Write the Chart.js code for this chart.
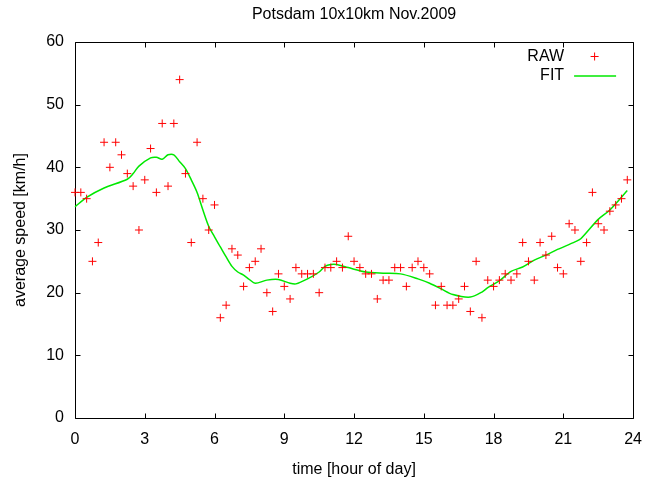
<!DOCTYPE html>
<html>
<head>
<meta charset="utf-8">
<script src="https://cdn.jsdelivr.net/npm/chart.js@4.4.0/dist/chart.umd.min.js"></script>
<style>
  body { margin: 0; background: #fff; }
  #wrap { width: 646px; height: 481px; }
</style>
</head>
<body>
<div id="wrap"><canvas id="chart" width="646" height="481"></canvas></div>
<script>
// raw measurements, one every quarter hour
const rawHours = [
  0, 0.25, 0.5, 0.75, 1, 1.25, 1.5, 1.75, 2, 2.25, 2.5, 2.75,
  3, 3.25, 3.5, 3.75, 4, 4.25, 4.5, 4.75, 5, 5.25, 5.5, 5.75,
  6, 6.25, 6.5, 6.75, 7, 7.25, 7.5, 7.75, 8, 8.25, 8.5, 8.75,
  9, 9.25, 9.5, 9.75, 10, 10.25, 10.5, 10.75, 11, 11.25, 11.5, 11.75,
  12, 12.25, 12.5, 12.75, 13, 13.25, 13.5, 13.75, 14, 14.25, 14.5, 14.75,
  15, 15.25, 15.5, 15.75, 16, 16.25, 16.5, 16.75, 17, 17.25, 17.5, 17.75,
  18, 18.25, 18.5, 18.75, 19, 19.25, 19.5, 19.75, 20, 20.25, 20.5, 20.75,
  21, 21.25, 21.5, 21.75, 22, 22.25, 22.5, 22.75, 23, 23.25, 23.5, 23.75
];
const rawSpeed = [
  36, 36, 35, 25, 28, 44, 40, 44, 42, 39, 37, 30,
  38, 43, 36, 47, 37, 47, 54, 39, 28, 44, 35, 30,
  34, 16, 18, 27, 26, 21, 24, 25, 27, 20, 17, 23,
  21, 19, 24, 23, 23, 23, 20, 24, 24, 25, 24, 29,
  25, 24, 23, 23, 19, 22, 22, 24, 24, 21, 24, 25,
  24, 23, 18, 21, 18, 18, 19, 21, 17, 25, 16, 22,
  21, 22, 23, 22, 23, 28, 25, 22, 28, 26, 29, 24,
  23, 31, 30, 25, 28, 36, 31, 30, 33, 34, 35, 38
];

// smoothed fit curve
const fitHours = [
  0, 0.5, 1.25, 2.25, 2.5, 2.75, 3.25, 3.5, 3.75, 4, 4.25, 4.5,
  4.75, 5, 5.25, 5.5, 5.75, 6, 6.25, 6.5, 6.75, 7, 7.25, 7.5,
  7.75, 8.25, 8.75, 9.25, 9.5, 10, 10.5, 10.75, 11, 11.25, 11.75, 12.5,
  13.25, 14, 14.75, 15.25, 15.75, 16.25, 17, 17.5, 17.75, 18.25, 18.75, 19.25,
  19.75, 20.25, 20.75, 21.5, 21.75, 22.5, 23, 23.75
];
const fitSpeed = [
  33.7, 35.2, 36.7, 38.1, 39.0, 40.2, 41.5, 41.6, 41.3, 42.0, 42.0, 40.9,
  39.8, 38.0, 36.0, 33.2, 30.6, 28.9, 27.3, 25.7, 24.2, 23.3, 22.8, 22.1,
  21.5, 22.0, 22.1, 21.5, 21.4, 22.2, 23.3, 24.2, 24.5, 24.5, 24.0, 23.3,
  23.1, 23.0, 22.2, 21.5, 20.6, 19.7, 19.3, 20.1, 20.8, 21.9, 23.4, 24.1,
  25.2, 26.0, 26.9, 28.1, 28.6, 31.7, 33.2, 36.3
];

const xTickStep = 3;
const yTickStep = 10;

const FONT = '"Liberation Sans", Arial, sans-serif';
const SIZE = 16;
const RED = '#ff0000';
const GREEN = '#00e800';

function pairs(xs, ys) {
  return xs.map(function (x, i) { return { x: x, y: ys[i] }; });
}

// gnuplot style box with inward ticks on all four sides, title and key
const frame = {
  id: 'frame',
  beforeDatasetsDraw(chart) {
    const ctx = chart.ctx;
    const x = chart.scales.x, y = chart.scales.y;
    const L = Math.round(x.getPixelForValue(x.min)) + 0.5;
    const R = Math.round(x.getPixelForValue(x.max)) + 0.5;
    const T = Math.round(y.getPixelForValue(y.max)) + 0.5;
    const B = Math.round(y.getPixelForValue(y.min)) + 0.5;
    const len = 5;
    ctx.save();
    ctx.strokeStyle = '#000';
    ctx.lineWidth = 1;
    ctx.beginPath();
    ctx.rect(L, T, R - L, B - T);
    x.ticks.forEach(function (t) {
      const px = Math.round(x.getPixelForValue(t.value)) + 0.5;
      ctx.moveTo(px, B); ctx.lineTo(px, B - len);
      ctx.moveTo(px, T); ctx.lineTo(px, T + len);
    });
    y.ticks.forEach(function (t) {
      const py = Math.round(y.getPixelForValue(t.value)) + 0.5;
      ctx.moveTo(L, py); ctx.lineTo(L + len, py);
      ctx.moveTo(R, py); ctx.lineTo(R - len, py);
    });
    ctx.stroke();
    ctx.restore();
  },
  afterDraw(chart) {
    const ctx = chart.ctx;
    const a = chart.chartArea;
    ctx.save();
    ctx.font = SIZE + 'px ' + FONT;
    ctx.fillStyle = '#000';
    ctx.textBaseline = 'middle';
    ctx.textAlign = 'center';
    ctx.fillText('Potsdam 10x10km Nov.2009', (a.left + a.right) / 2, 15);

    const textRight = a.right - 69;
    const row1 = a.top + 15, row2 = a.top + 34;
    ctx.textAlign = 'right';
    ctx.fillText('RAW', textRight, row1);
    ctx.fillText('FIT', textRight, row2);
    ctx.strokeStyle = RED;
    ctx.lineWidth = 1;
    ctx.beginPath();
    const cx = a.right - 38.5, cy = row1 - 0.5;
    ctx.moveTo(cx - 4, cy); ctx.lineTo(cx + 4, cy);
    ctx.moveTo(cx, cy - 4); ctx.lineTo(cx, cy + 4);
    ctx.stroke();
    ctx.strokeStyle = GREEN;
    ctx.lineWidth = 1.5;
    ctx.beginPath();
    ctx.moveTo(a.right - 59, row2);
    ctx.lineTo(a.right - 17, row2);
    ctx.stroke();
    ctx.restore();
  }
};

const ctx = document.getElementById('chart').getContext('2d');
new Chart(ctx, {
  type: 'scatter',
  data: {
    datasets: [
      {
        label: 'RAW',
        data: pairs(rawHours, rawSpeed),
        pointStyle: 'cross',
        pointRadius: 4,
        pointBorderWidth: 1,
        borderColor: RED,
        backgroundColor: RED,
        showLine: false,
        clip: false,
        order: 1
      },
      {
        label: 'FIT',
        data: pairs(fitHours, fitSpeed),
        showLine: true,
        pointRadius: 0,
        borderColor: GREEN,
        backgroundColor: GREEN,
        borderWidth: 1.5,
        tension: 0.3,
        clip: false,
        order: 2
      }
    ]
  },
  options: {
    responsive: false,
    animation: false,
    layout: { padding: { left: 0, right: 1, top: 42, bottom: 0 } },
    plugins: {
      legend: { display: false },
      tooltip: { enabled: false },
      title: { display: false }
    },
    scales: {
      x: {
        type: 'linear',
        min: 0,
        max: 24,
        ticks: { stepSize: xTickStep, padding: 4, color: '#000', font: { family: FONT, size: SIZE } },
        grid: { display: false },
        border: { display: false },
        title: {
          display: true,
          text: 'time [hour of day]',
          color: '#000',
          font: { family: FONT, size: SIZE },
          padding: { top: 0, bottom: 2 }
        },
        afterFit: function (s) { s.height = 63; }
      },
      y: {
        min: 0,
        max: 60,
        ticks: { stepSize: yTickStep, padding: 3, color: '#000', font: { family: FONT, size: SIZE } },
        grid: { display: false },
        border: { display: false },
        title: {
          display: true,
          text: 'average speed [km/h]',
          color: '#000',
          font: { family: FONT, size: SIZE },
          padding: { top: 11, bottom: 0 }
        },
        afterFit: function (s) { s.width = 75; }
      }
    }
  },
  plugins: [frame]
});
</script>
</body>
</html>
